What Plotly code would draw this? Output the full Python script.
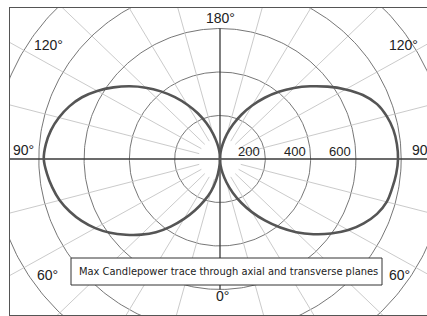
import numpy as np
import plotly.graph_objects as go

# ---- data (candela) ----
angles_deg = list(range(0, 181, 5))  # 0 = nadir (bottom), 180 = zenith (top)
left_plane_cd = [0, 40, 100, 155, 205, 260, 318, 380, 440, 492, 542, 592, 636, 674, 706, 733, 752, 767, 778,
                 772, 758, 736, 708, 672, 626, 574, 520, 464, 406, 347, 288, 232, 176, 122, 74, 38, 0]
right_plane_cd = [0, 30, 66, 112, 165, 222, 282, 345, 410, 476, 538, 598, 654, 700, 738, 762, 772, 781, 786,
                  784, 777, 762, 738, 696, 640, 580, 520, 462, 404, 344, 284, 226, 170, 118, 70, 32, 0]
grid_radii = [200, 400, 600, 800, 1000, 1200]
radial_tick_labels = ["200", "400", "600"]
spoke_angles = [a for a in range(0, 360, 15) if a % 90 != 0]
angle_labels = ["180°", "0°", "90°", "90°", "120°", "120°", "60°", "60°"]
legend_text = "Max Candlepower trace through axial and transverse planes"

# ---- geometry helpers ----
kx = 0.2265            # px per cd horizontally
ky = kx * 0.96         # px per cd vertically
cx, cy = 220, 159      # pixel position of the pole
L, T, R, B = 10, 8, 427, 315
xr = [(L - cx) / kx, (R - cx) / kx]
yr = [-(B - cy) / ky, (cy - T) / ky]

def px2x(px):
    return (px - cx) / kx

def py2y(py):
    return (cy - py) / ky

fig = go.Figure()

# grid circles
t = np.linspace(0, 2 * np.pi, 361)
for r in grid_radii:
    fig.add_trace(go.Scatter(x=r * np.cos(t), y=r * np.sin(t), mode="lines",
                             line=dict(color="#666666", width=0.9), hoverinfo="skip", showlegend=False))

# light spokes every 15 deg
for a in spoke_angles:
    th = np.radians(a)
    rr = np.array([95, 1400])
    fig.add_trace(go.Scatter(x=rr * np.sin(th), y=-rr * np.cos(th), mode="lines",
                             line=dict(color="#c4c4c4", width=0.9), hoverinfo="skip", showlegend=False))

# main axes: horizontal across whole frame, vertical within the 600 circle
fig.add_trace(go.Scatter(x=[-1400, 1400], y=[0, 0], mode="lines",
                         line=dict(color="#3a3a3a", width=1.3), hoverinfo="skip", showlegend=False))
fig.add_trace(go.Scatter(x=[0, 0], y=[-600, 600], mode="lines",
                         line=dict(color="#3a3a3a", width=1.3), hoverinfo="skip", showlegend=False))

# candlepower traces
th = np.radians(angles_deg)
lr = np.array(left_plane_cd)
rr = np.array(right_plane_cd)
fig.add_trace(go.Scatter(x=-lr * np.sin(th), y=-lr * np.cos(th), mode="lines",
                         line=dict(color="#555555", width=2.6, shape="spline", smoothing=1.0),
                         hoverinfo="skip", showlegend=False))
fig.add_trace(go.Scatter(x=rr * np.sin(th), y=-rr * np.cos(th), mode="lines",
                         line=dict(color="#555555", width=2.6, shape="spline", smoothing=1.0),
                         hoverinfo="skip", showlegend=False))

font_ang = dict(family="Liberation Sans, Arial, sans-serif", size=14, color="#222")
font_rad = dict(family="Liberation Sans, Arial, sans-serif", size=13, color="#222")

annotations = []
# radial value labels (right-aligned just inside each circle)
for lab, rad in zip(radial_tick_labels, [200, 400, 600]):
    annotations.append(dict(x=rad - 13, y=py2y(151.5), text=lab, showarrow=False,
                            xanchor="right", yanchor="middle", font=font_rad))

# angle labels
ang_pos = [(0, py2y(18), "center"), (px2x(222), py2y(296), "center"),
           (px2x(11), py2y(150), "left"), (px2x(410), py2y(150), "left"),
           (px2x(48), py2y(45), "center"), (px2x(403), py2y(45), "center"),
           (px2x(47), py2y(275), "center"), (px2x(399), py2y(275), "center")]
for lab, (x, y, xa) in zip(angle_labels, ang_pos):
    annotations.append(dict(x=x, y=y, text=lab, showarrow=False, xanchor=xa,
                            yanchor="middle", font=font_ang))

# legend box
fig.add_shape(type="rect", x0=px2x(71), x1=px2x(382), y0=py2y(258), y1=py2y(285),
              line=dict(color="#333", width=1), fillcolor="white", layer="above")
annotations.append(dict(x=px2x(228), y=py2y(271.5), text=legend_text, showarrow=False,
                        xanchor="center", yanchor="middle",
                        font=dict(family="DejaVu Sans Condensed, sans-serif", size=11, color="#222")))

fig.update_layout(
    width=427, height=316,
    margin=dict(l=L, r=0, t=T, b=316 - B),
    paper_bgcolor="white", plot_bgcolor="white",
    annotations=annotations,
    xaxis=dict(range=xr, showgrid=False, zeroline=False, showticklabels=False, ticks="",
               showline=True, mirror=True, linecolor="#555", linewidth=1),
    yaxis=dict(range=yr, showgrid=False, zeroline=False, showticklabels=False, ticks="",
               showline=True, mirror=False, linecolor="#555", linewidth=1),
)

fig.write_html("out.html", config={"displayModeBar": False},
               post_script="document.body.style.margin='0';")
